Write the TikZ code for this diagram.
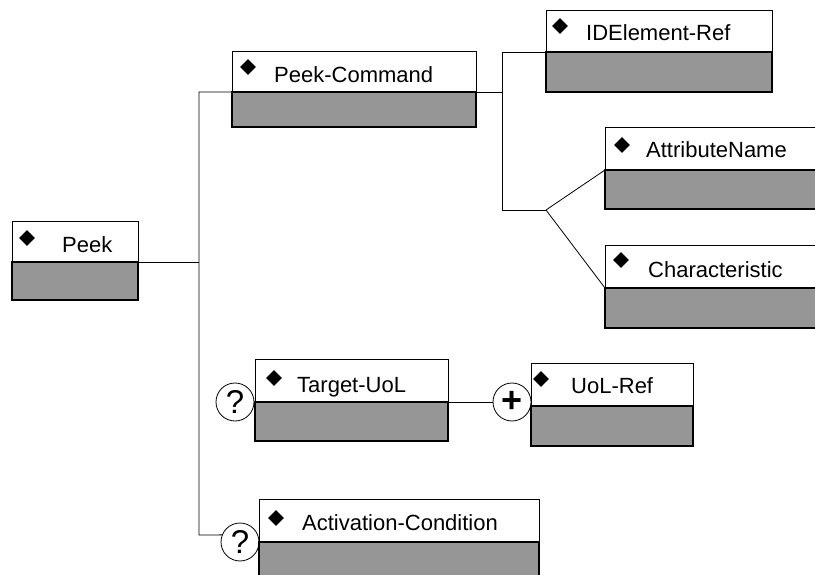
\documentclass[tikz,border=0pt]{standalone}
\usepackage{fontspec}
\setmainfont{Liberation Sans}
\definecolor{boxgray}{RGB}{150,150,150}
\tikzset{
  hdr/.style={draw=black, fill=white, line width=1pt, anchor=north west, inner sep=0pt, outer sep=0pt},
  body/.style={draw=black, fill=boxgray, line width=1.2pt, anchor=north west, inner sep=0pt, outer sep=0pt},
  lbl/.style={anchor=base west, inner sep=0pt, font=\fontsize{22}{26}\selectfont},
  occ/.style={circle, draw=black, fill=white, line width=0.8pt, minimum size=38pt, inner sep=0pt, outer sep=0pt},
  conn/.style={draw=black, line width=0.8pt}
}
\newcommand\umlbox[9]{%
  \node[hdr, minimum width={(#4-#2)*1pt}, minimum height={(#5-#3)*1pt}] (#1-t) at (#2,#3) {};
  \node[body, minimum width={(#4-#2)*1pt}, minimum height={(#6-#5)*1pt}] (#1) at (#2,#5) {};
  \coordinate (#1-d) at (#8);
  \fill[black] (#1-d) ++(0,-7.8) -- ++(8,7.8) -- ++(-8,7.8) -- ++(-8,-7.8) -- cycle;
  \node[lbl] (#1-l) at (#9) {#7};
}
\begin{document}
\begin{tikzpicture}[x=1pt, y=-1pt]
\useasboundingbox (0,0) rectangle (815,575);
\clip (0,0) rectangle (815,575);
\fill[white] (0,0) rectangle (815,575);

% circles
\node[occ, font=\fontsize{33}{33}\selectfont] (q1) at (235,402) {?};
\node[occ, font=\fontsize{36}{36}\selectfont\bfseries] (plus) at (512,402) {+};
\node[occ, font=\fontsize{33}{33}\selectfont] (q2) at (240,542) {?};

% boxes
\umlbox{peek}{12}{222}{138}{262}{300}{Peek}{27,238}{62,253}
\umlbox{pcmd}{232}{52}{476}{92}{127}{Peek-Command}{248,67}{274,83}
\umlbox{idref}{546}{11}{772}{52}{92}{IDElement-Ref}{560,26}{586,41}
\umlbox{attr}{605}{128}{830}{170}{209}{AttributeName}{622,145}{646,158}
\umlbox{char}{605}{246}{830}{288}{328}{Characteristic}{621,260}{648,277}
\umlbox{tuol}{255}{359}{448}{402}{441}{Target-UoL}{274,378}{297,392}
\umlbox{uref}{531}{363}{693}{406}{446}{UoL-Ref}{541,379}{571,393}
\umlbox{acond}{259}{499}{539}{542}{600}{Activation-Condition}{276,518}{302,530}

% connectors
\coordinate (spbot) at (199,535);
\coordinate (sp2) at (502,210);
\coordinate (fork) at (546,210);
\draw[conn] (peek.north east) -- (peek.north east -| spbot);
\draw[conn] (pcmd.north west) -| (spbot) -- (q2.158);
\draw[conn] (pcmd.north east) -- (pcmd.north east -| sp2);
\draw[conn] (idref.north west) -| (sp2) -- (fork);
\draw[conn] (fork) -- (attr.north west);
\draw[conn] (fork) -- (char.north west);
\draw[conn] (tuol.north east) -- (plus.west);
\end{tikzpicture}
\end{document}
